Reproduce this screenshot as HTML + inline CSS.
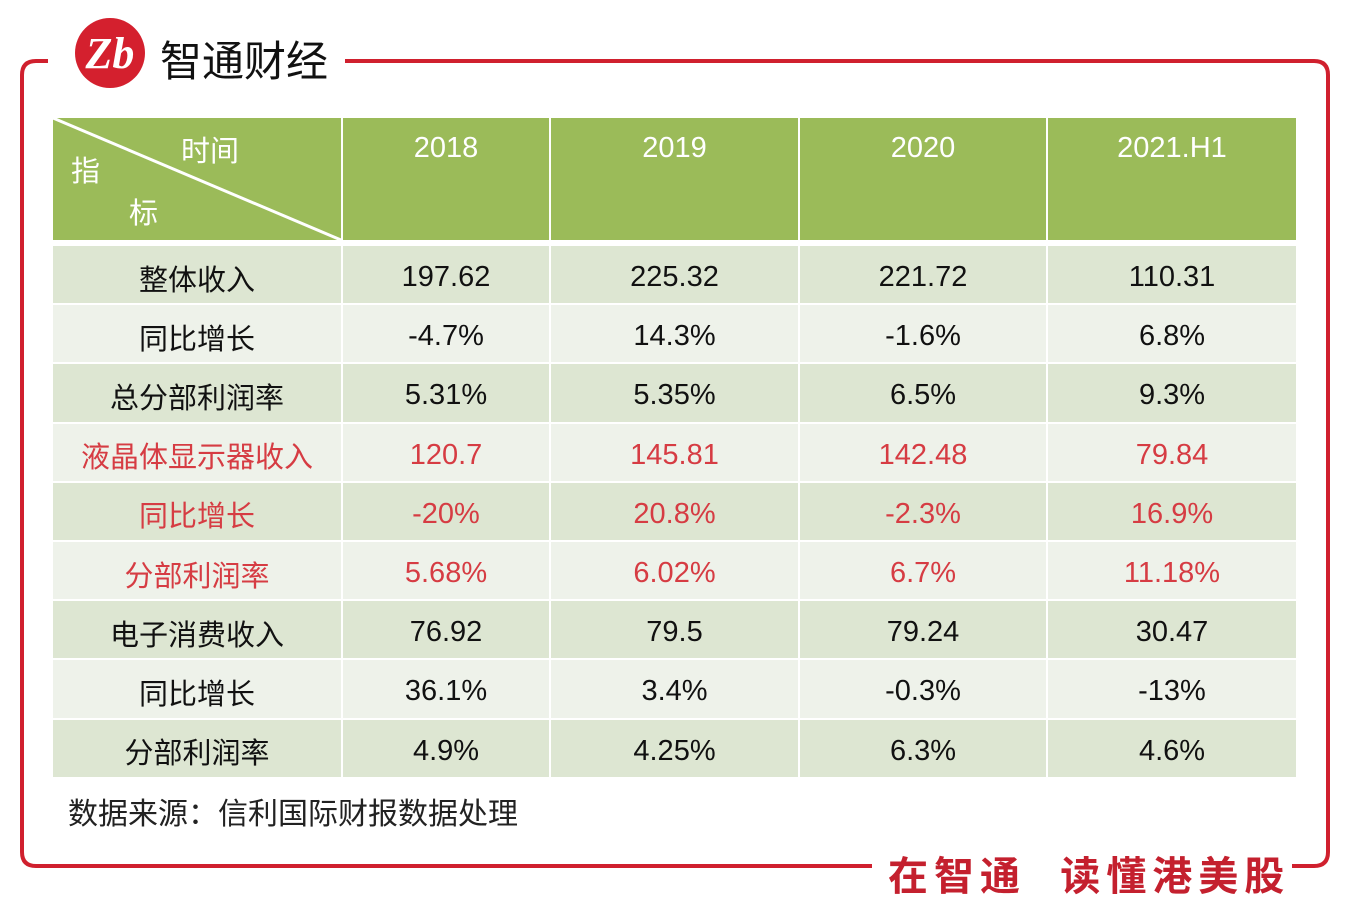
<!DOCTYPE html>
<html><head><meta charset="utf-8"><style>
body{margin:0;width:1360px;height:921px;background:#fff;position:relative;overflow:hidden;font-family:"Liberation Sans","Noto Sans CJK SC",sans-serif}
.a{position:absolute}
.c{position:absolute;display:flex;align-items:center;justify-content:center;font-size:29px;color:#111;padding-top:6px;box-sizing:border-box}
.h{align-items:flex-start;padding-top:14px;box-sizing:border-box;color:#fff;background:#9bbb59}
.r{color:#d63c43}
</style></head><body>
<svg class="a" style="left:0;top:0" width="1360" height="921">
<path d="M48 61 H36 Q22 61 22 75 V852 Q22 866 36 866 H872" fill="none" stroke="#d0202e" stroke-width="4"/>
<path d="M345 61 H1314 Q1328 61 1328 75 V852 Q1328 866 1314 866 H1292" fill="none" stroke="#d0202e" stroke-width="4"/>
<circle cx="110" cy="53" r="35" fill="#d4202e"/>
<text x="110" y="68" text-anchor="middle" font-family="Liberation Serif" font-weight="bold" font-style="italic" font-size="44" fill="#fff">Zb</text>
</svg>
<div class="a" style="left:160px;top:28px;font-size:42px;color:#111">智通财经</div>
<div class="a" style="left:888px;top:844px;font-size:40px;font-weight:bold;color:#c4202e;letter-spacing:6px;white-space:pre">在智通  读懂港美股</div>
<div id="t"></div>
<div class="a" style="left:68px;top:789px;font-size:30px;color:#222">数据来源：信利国际财报数据处理</div>
<script>
const cols=[53,343,551,800,1048,1298];
const years=["2018","2019","2020","2021.H1"];
const labels=["整体收入","同比增长","总分部利润率","液晶体显示器收入","同比增长","分部利润率","电子消费收入","同比增长","分部利润率"];
const vals=[["197.62","225.32","221.72","110.31"],["-4.7%","14.3%","-1.6%","6.8%"],["5.31%","5.35%","6.5%","9.3%"],["120.7","145.81","142.48","79.84"],["-20%","20.8%","-2.3%","16.9%"],["5.68%","6.02%","6.7%","11.18%"],["76.92","79.5","79.24","30.47"],["36.1%","3.4%","-0.3%","-13%"],["4.9%","4.25%","6.3%","4.6%"]];
const red=[3,4,5];
const t=document.getElementById('t');
function cell(x0,x1,y0,y1,txt,cls,bg){const d=document.createElement('div');d.className='c '+cls;d.style.left=x0+'px';d.style.top=y0+'px';d.style.width=(x1-x0-2)+'px';d.style.height=(y1-y0-2)+'px';if(bg)d.style.background=bg;d.textContent=txt;t.appendChild(d);return d;}
const hc=cell(cols[0],cols[1],118,242,'','h');


hc.innerHTML='<svg style="position:absolute;left:0;top:0" width="288" height="122"><line x1="0" y1="0" x2="288" y2="122" stroke="#fff" stroke-width="3"/></svg><span style="position:absolute;left:128px;top:10px">时间</span><span style="position:absolute;left:18px;top:30px">指</span><span style="position:absolute;left:76px;top:72px">标</span>';
years.forEach((y,i)=>{const d=cell(cols[i+1],cols[i+2],118,242,y,'h');

});
labels.forEach((l,r)=>{const y0=246+r*59.2,y1=y0+59.2;const bg=r%2?'#eef2ea':'#dde6d2';const rc=red.includes(r)?'r':'';
const d=cell(cols[0],cols[1],y0,y1,l,rc,bg);


vals[r].forEach((v,i)=>{const e=cell(cols[i+1],cols[i+2],y0,y1,v,rc,bg);

});});
</script>
</body></html>
